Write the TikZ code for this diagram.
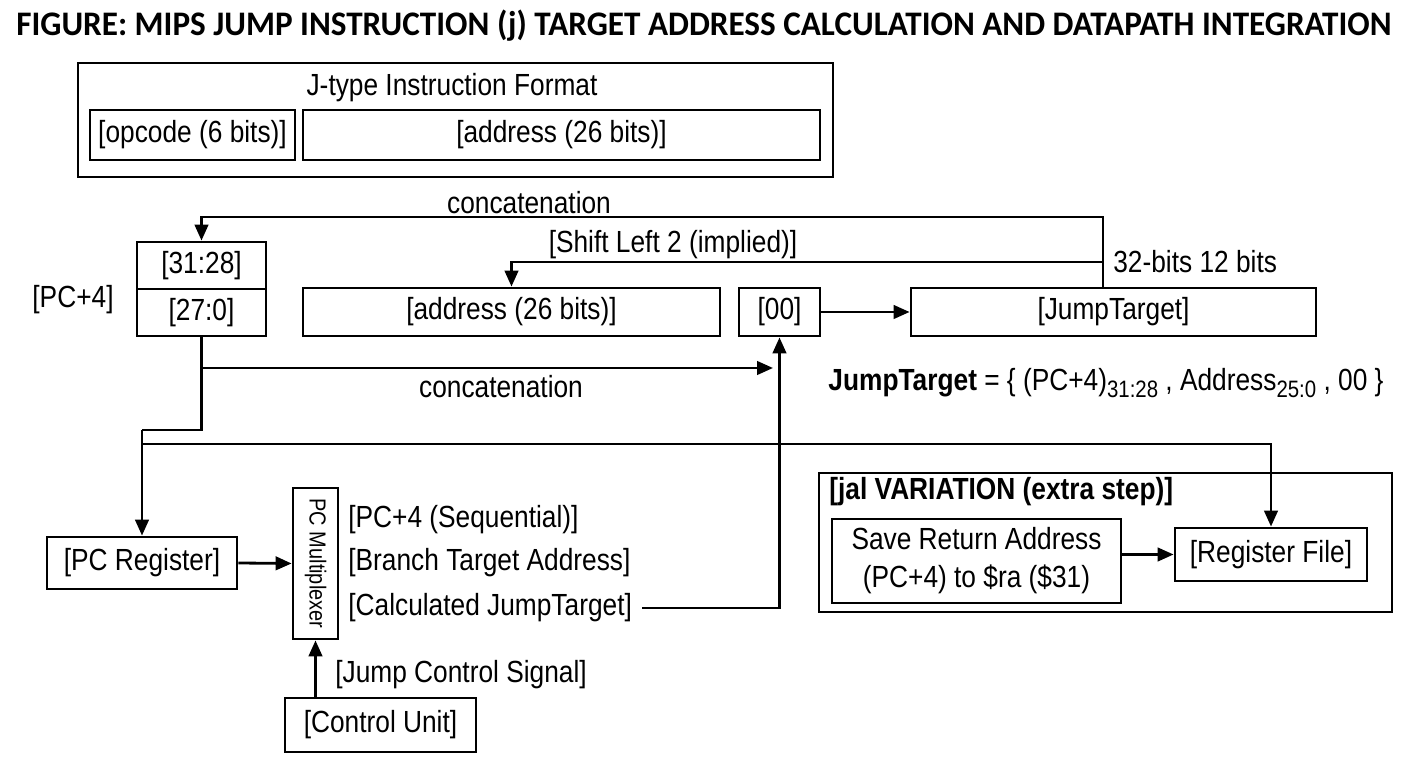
\documentclass[tikz,border=0pt]{standalone}
\usepackage{fontspec}
\setmainfont{Liberation Sans}[FakeStretch=0.86]
\newfontfamily\titlefont{Carlito}[FakeStretch=0.963]
\usetikzlibrary{arrows.meta}

\tikzset{
	box/.style={draw, line width=1.6pt, inner sep=0pt, align=center},
	lbl/.style={inner sep=0pt, align=center},
	wire/.style={line width=1.6pt},
	arr/.style={wire, -{Triangle[length=0.32cm,width=0.27cm]}},
}
\newcommand{\lowsub}[1]{\raisebox{-0.4ex}{\fontsize{13.5}{15}\selectfont #1}}

\begin{document}
\begin{tikzpicture}[font=\fontsize{17.4}{21.6}\selectfont]
	\useasboundingbox (0,0) rectangle (28.16,15.36);
	\node[lbl] (title) at (14.08,14.84) {\titlefont\bfseries\fontsize{19.6}{22}\selectfont FIGURE: MIPS JUMP INSTRUCTION (j) TARGET ADDRESS CALCULATION AND DATAPATH INTEGRATION};

	% instruction format
	\node[box, minimum width=15.1cm, minimum height=2.28cm] (fmt) at (9.11,12.96) {};
	\node[lbl] (fmtname) at (9.04,13.6) {J-type Instruction Format};
	\node[box, minimum width=4.1cm, minimum height=1cm] (opcode) at (3.85,12.66) {[opcode (6 bits)]};
	\node[box, minimum width=10.34cm, minimum height=1cm] (addr) at (11.23,12.66) {[address (26 bits)]};

	% target address
	\node[box, minimum width=2.58cm, minimum height=0.94cm] (pchi) at (4.03,10.05) {[31:28]};
	\node[box, minimum width=2.58cm, minimum height=0.94cm] (pclo) at (4.03,9.11) {[27:0]};
	\node[lbl] (pcfour) at (1.46,9.36) {[PC+4]};
	\node[box, minimum width=8.34cm, minimum height=0.96cm] (shaddr) at (10.23,9.12) {[address (26 bits)]};
	\node[box, minimum width=1.62cm, minimum height=0.96cm] (zeros) at (15.59,9.12) {[00]};
	\node[box, minimum width=8.1cm, minimum height=0.96cm] (jt) at (22.27,9.12) {[JumpTarget]};
	\coordinate (tap) at (22.06,11.02);
	\coordinate (shtap) at (22.06,10.12);
	\draw[arr] (jt.north -| tap) -- (tap) -| (pchi.north);
	\draw[arr] (shtap) -| (shaddr.north);
	\draw[arr] (zeros.east) -- (jt.west);
	\node[lbl] (concattop) at (10.58,11.3) {concatenation};
	\node[lbl] (shiftlbl) at (13.46,10.46) {[Shift Left 2 (implied)]};
	\node[lbl, anchor=west] (bitslbl) at (22.26,10.12) {32-bits 12 bits};
	\node[lbl] (formula) at (22.12,7.7) {\textbf{JumpTarget} = \{ (PC+4)\lowsub{31:28} , Address\lowsub{25:0} , 00 \}};

	% datapath
	\node[box, minimum width=3.8cm, minimum height=1.04cm] (pcreg) at (2.84,4.1) {[PC Register]};
	\node[box, minimum width=0.9cm, minimum height=3.02cm] (mux) at (6.31,4.09) {};
	\node[lbl, rotate=-90, font=\fontsize{13.2}{15}\selectfont] (muxname) at (mux.center) {PC Multiplexer};
	\node[lbl, anchor=west] (inseq) at (6.96,4.96) {[PC+4 (Sequential)]};
	\node[lbl, anchor=west] (inbr) at (6.96,4.1) {[Branch Target Address]};
	\node[lbl, anchor=west] (injt) at (6.96,3.2) {[Calculated JumpTarget]};
	\node[box, minimum width=3.82cm, minimum height=1.08cm] (ctrl) at (7.61,0.86) {[Control Unit]};
	\node[lbl, anchor=west] (ctrlsig) at (6.7,1.86) {[Jump Control Signal]};
	\coordinate (knee) at (4.03,6.76);
	\coordinate (knee2) at (2.84,6.76);
	\coordinate (concatend) at (15.46,8);
	\coordinate (busleft) at (2.84,6.48);
	\draw[wire] (pclo.south) -- (knee) -- (knee2);
	\draw[arr] (pclo.south |- concatend) -- (concatend);
	\node[lbl] (concatlow) at (10.02,7.62) {concatenation};
	\draw[arr] (knee2) -- (pcreg.north);
	\draw[arr] (pcreg.east) -- (mux.west);
	\draw[arr] (ctrl.north -| mux.south) -- (mux.south);
	\draw[arr, shorten <=0.2cm] (injt.east) -| (zeros.south);

	% jal
	\node[box, minimum width=11.46cm, minimum height=2.78cm] (jal) at (22.11,4.51) {};
	\node[lbl, anchor=west] (jalname) at (16.58,5.52) {\bfseries [jal VARIATION (extra step)]};
	\node[box, minimum width=5.78cm, minimum height=1.68cm] (save) at (19.53,4.14) {Save Return Address\\(PC+4) to \$ra (\$31)};
	\node[box, minimum width=3.84cm, minimum height=1.06cm] (regfile) at (25.42,4.27) {[Register File]};
	\draw[arr] (busleft) -| (regfile.north);
	\draw[arr] (save.east |- regfile.west) -- (regfile.west);
\end{tikzpicture}
\end{document}
